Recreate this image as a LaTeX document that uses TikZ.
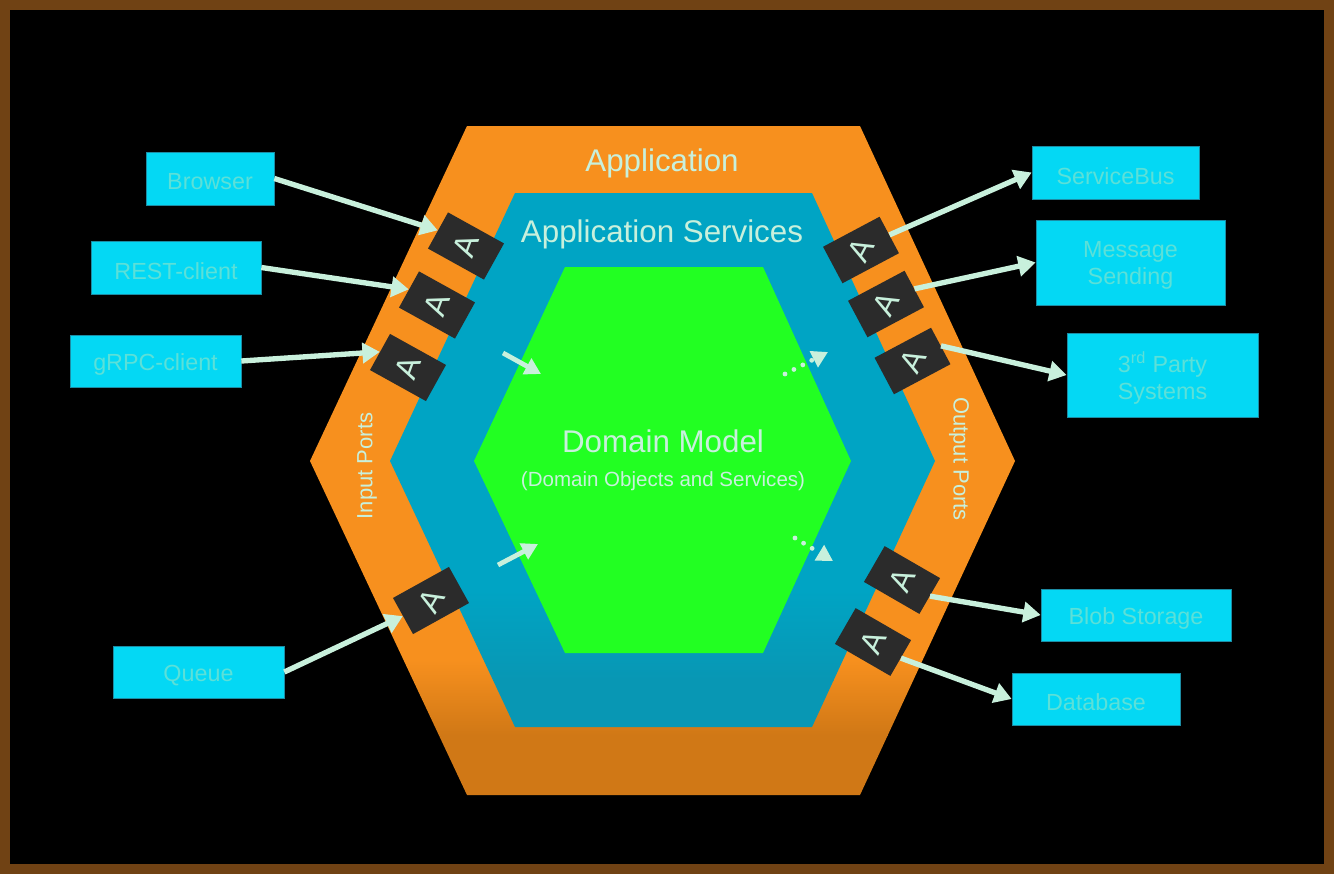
\documentclass[tikz,border=0pt]{standalone}
\usepackage{graphicx}
\usepackage{fontspec}
\setmainfont{Liberation Sans}
\usetikzlibrary{arrows.meta}

\definecolor{frameBrown}{HTML}{704214}
\definecolor{appOrange}{HTML}{F7901E}
\definecolor{appDark}{HTML}{D07816}
\definecolor{svcBlue}{HTML}{00A4C4}
\definecolor{svcDark}{HTML}{0897B4}
\definecolor{coreGreen}{HTML}{22FF22}
\definecolor{clientCyan}{HTML}{04D8F4}
\definecolor{clientEdge}{HTML}{1C8CA4}
\definecolor{clientText}{HTML}{5CE0D8}
\definecolor{portDark}{HTML}{2B2B2B}
\definecolor{paleMint}{HTML}{C8F0DC}

\tikzset{
  client/.style={draw=clientEdge, line width=0.5pt, fill=clientCyan, inner sep=0pt},
  clientLabel/.style={text=clientText, inner sep=0pt, align=center, font=\fontsize{17.5}{20.5}\selectfont},
  port/.style={fill=portDark, text=paleMint, inner sep=0pt, minimum width=48pt, minimum height=31pt,
    font=\fontsize{24}{24}\selectfont},
  flow/.style={draw=paleMint, line width=4pt, -{Triangle[length=13pt,width=15pt]}},
  innerflow/.style={draw=paleMint, line width=3.6pt, -{Triangle[length=12pt,width=13pt]}},
  dotflow/.style={innerflow, line cap=round, dash pattern=on 0pt off 7.5pt},
  title/.style={text=paleMint, inner sep=0pt, font=\fontsize{23.5}{23.5}\selectfont},
  side/.style={text=paleMint, inner sep=0pt, font=\fontsize{16.5}{16.5}\selectfont}
}

\begin{document}
\begin{tikzpicture}[x=0.75pt, y=-0.75pt]
  \useasboundingbox (0, 0) rectangle (1334, 874);
  \fill[frameBrown] (0, 0) rectangle (1334, 874);
  \fill[black] (10, 10) rectangle (1324, 864);

  % hexagons
  \begin{scope}
    \clip (467, 126) -- (860, 126) -- (1015, 461) -- (860, 795) -- (467, 795) -- (310, 461) -- cycle;
    \fill[appOrange] (300, 120) rectangle (1030, 660);
    \shade[top color=appOrange, bottom color=appDark] (300, 660) rectangle (1030, 735);
    \fill[appDark] (300, 735) rectangle (1030, 800);
  \end{scope}
  \begin{scope}
    \clip (515, 193) -- (812, 193) -- (935, 461) -- (812, 727) -- (515, 727) -- (390, 461) -- cycle;
    \fill[svcBlue] (380, 190) rectangle (940, 590);
    \shade[top color=svcBlue, bottom color=svcDark] (380, 590) rectangle (940, 680);
    \fill[svcDark] (380, 680) rectangle (940, 730);
  \end{scope}
  \fill[coreGreen] (565, 267) -- (763, 267) -- (851, 461) -- (763, 653) -- (565, 653) -- (474, 461) -- cycle;

  \node[title] (appTitle) at (662, 163) {Application};
  \node[title] (svcTitle) at (662, 234) {Application Services};
  \node[title] (coreTitle) at (663, 441) {Domain Model};
  \node[text=paleMint, inner sep=0pt, font=\fontsize{15.4}{15.4}\selectfont] (coreSub) at (663, 481) {(Domain Objects and Services)};
  \node[side, rotate=90] (inLabel) at (367, 466) {Input Ports};
  \node[side, rotate=-90] (outLabel) at (959, 459) {Output Ports};

  % adapters
  \foreach \name/\x/\y/\ang/\tilt in {inA/466/246/-29/99, inB/437/305/-29/99, inC/408/367.5/-29/99, inD/431/600.5/29/31,
      outA/861/250/28/34, outB/886/304/28/34, outC/912.5/361/28/34, outD/902/580/-30/95, outE/873/642/-30/95} {
    \node[port, rotate=\ang] (\name) at (\x, \y) {\rotatebox{\tilt}{A}};
  }

  % clients and stores
  \foreach \name/\x/\y/\w/\h/\txt in {browser/210/178.5/128/53/Browser, rest/176/267.5/170/53/REST-client,
      grpc/155.5/361/171/52/gRPC-client, queue/198.5/672/171/52/Queue,
      bus/1115.5/172.5/167/53/ServiceBus, msg/1130.5/262.5/189/85/{Message\\Sending},
      third/1162.5/375/191/84/{3\textsuperscript{rd} Party\\Systems},
      blob/1136/615/190/52/Blob Storage, db/1096/699/168/52/Database} {
    \node[client, minimum width=0.75*\w pt, minimum height=0.75*\h pt] (\name) at (\x, \y) {};
    \node[clientLabel] (\name Text) at ([yshift=-2.4pt]\name.center) {\txt};
  }

  \draw[flow] (browser.east) -- (inA.west);
  \draw[flow] (rest.east) -- (inB.west);
  \draw[flow] (grpc.east) -- (inC.west);
  \draw[flow] (queue.east) -- (inD.west);
  \draw[flow] (outA.east) -- (bus.west);
  \draw[flow] (outB.east) -- (msg.west);
  \draw[flow] (outC.east) -- (third.west);
  \draw[flow] (outD.east) -- (blob.west);
  \draw[flow] (outE.east) -- (db.west);

  % arrows across the inner hexagon
  \coordinate (coreInA) at (503, 353);
  \coordinate (coreInAEnd) at (541, 374);
  \coordinate (coreInB) at (498, 565);
  \coordinate (coreInBEnd) at (538, 544);
  \coordinate (coreOutA) at (785, 374);
  \coordinate (coreOutAEnd) at (828, 352);
  \coordinate (coreOutB) at (795, 538);
  \coordinate (coreOutBEnd) at (833, 561);
  \draw[innerflow] (coreInA) -- (coreInAEnd);
  \draw[innerflow] (coreInB) -- (coreInBEnd);
  \draw[dotflow] (coreOutA) -- (coreOutAEnd);
  \draw[dotflow] (coreOutB) -- (coreOutBEnd);
\end{tikzpicture}
\end{document}
